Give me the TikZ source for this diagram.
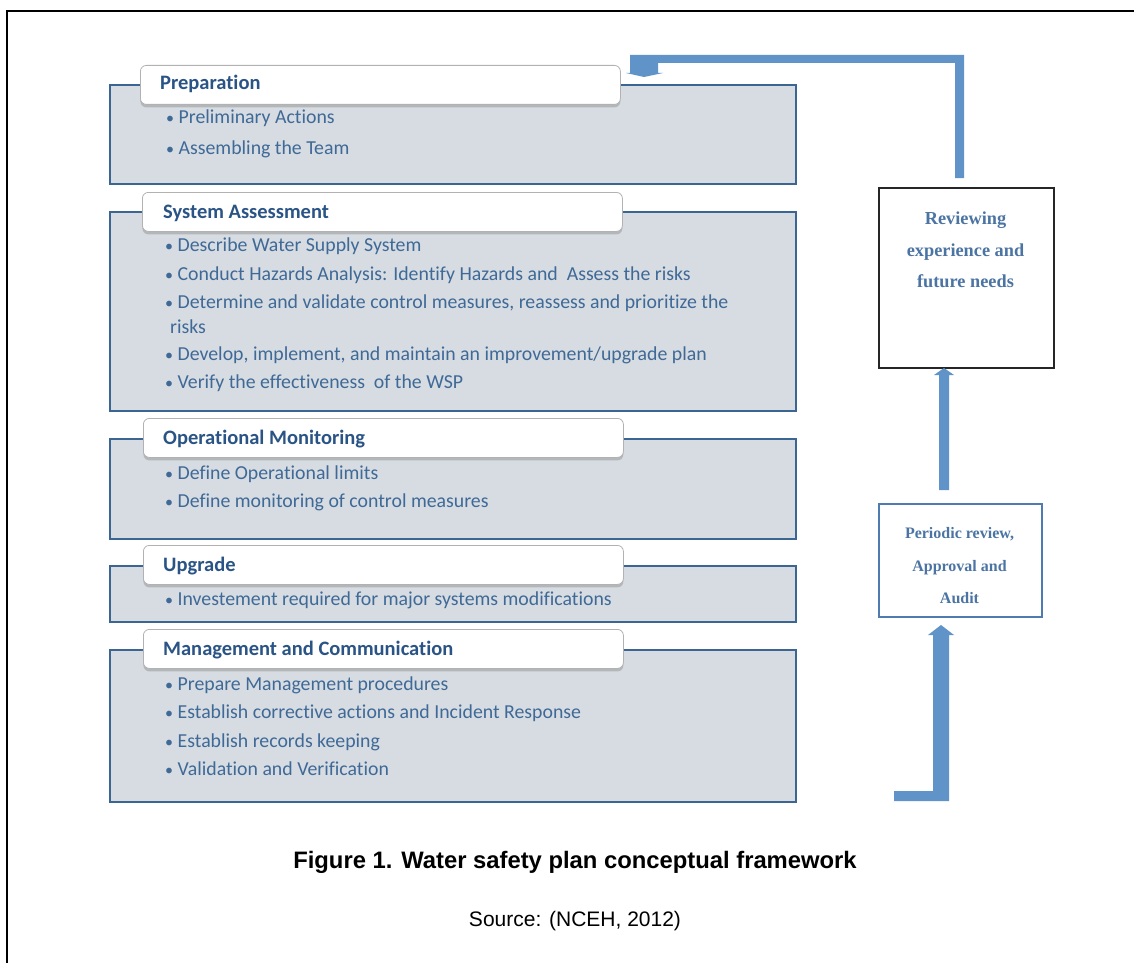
\documentclass[tikz,border=0pt]{standalone}
\usepackage{fontspec}
\setmainfont{Carlito}[Ligatures={NoCommon}]
\newfontfamily\tnr{Liberation Serif}
\newfontfamily\arial{Liberation Sans}
\usetikzlibrary{shadows}
\definecolor{bodyfill}{HTML}{D6DCE1}
\definecolor{bodyline}{HTML}{3B6593}
\definecolor{headtext}{HTML}{2A5485}
\definecolor{itemtext}{HTML}{3F6997}
\definecolor{arrowc}{HTML}{6093C8}
\definecolor{rtext}{HTML}{4B74A3}
\definecolor{pline}{HTML}{4F7CB0}
\newcommand\bl{{\fontsize{16}{16}\selectfont •}\hspace{4.5pt}}
\tikzset{
  body/.style={draw=bodyline, fill=bodyfill, line width=1.8pt, anchor=north west, inner sep=0pt},
  head/.style={draw=black!30, fill=white, line width=0.8pt, rounded corners=6pt, anchor=north west,
     minimum width=480pt, minimum height=39pt, inner sep=0pt,
     drop shadow={shadow xshift=0pt, shadow yshift=-3pt, fill=black!45, opacity=0.45}},
  headlbl/.style={anchor=base west, inner sep=0pt, text=headtext, font=\fontsize{20.5}{24}\selectfont\bfseries},
  item/.style={anchor=base west, inner sep=0pt, text=itemtext, font=\fontsize{19.8}{24}\selectfont},
  rlbl/.style={inner sep=0pt, text=rtext, align=center},
  barrow/.style={fill=arrowc},
}
\begin{document}
\begin{tikzpicture}[x=1pt, y=-1pt]
\useasboundingbox (0,0) rectangle (1134,963);
% outer frame (top and left edges)
\draw[line width=2.5pt] (1134,11) -- (7,11) -- (7,963);

% body boxes
\node[body, minimum width=686pt, minimum height=99pt]  (prepB) at (109,84) {};
\node[body, minimum width=686pt, minimum height=199pt] (saB)   at (109,211) {};
\node[body, minimum width=686pt, minimum height=100pt] (opB)   at (109,438) {};
\node[body, minimum width=686pt, minimum height=56pt]  (upB)   at (109,565) {};
\node[body, minimum width=686pt, minimum height=152pt] (mgB)   at (109,649) {};

% header tabs
\node[head] (prepH) at (140,65) {};
\node[head] (saH)   at (142,192) {};
\node[head] (opH)   at (143,418) {};
\node[head] (upH)   at (143,545) {};
\node[head] (mgH)   at (143,629) {};

\node[headlbl] (prepT) at (160,90)  {Preparation};
\node[headlbl] (saT)   at (163,218) {System Assessment};
\node[headlbl] (opT)   at (163,444) {Operational Monitoring};
\node[headlbl] (upT)   at (163,571) {Upgrade};
\node[headlbl] (mgT)   at (163,655) {Management and Communication};

% items
\node[item] (p1) at (166,124) {\bl Preliminary Actions};
\node[item] (p2) at (166,154) {\bl Assembling the Team};

\node[item] (s1) at (165,251) {\bl Describe Water Supply System};
\node[item] (s2) at (165,280) {\bl Conduct Hazards Analysis: Identify Hazards and\ \ Assess the risks};
\node[item] (s3) at (165,308) {\bl Determine and validate control measures, reassess and prioritize the};
\node[item] (s3b) at (170,333) {risks};
\node[item] (s4) at (165,360) {\bl Develop, implement, and maintain an improvement/upgrade plan};
\node[item] (s5) at (165,388) {\bl Verify the effectiveness\ \ of the WSP};

\node[item] (o1) at (165,479) {\bl Define Operational limits};
\node[item] (o2) at (165,507) {\bl Define monitoring of control measures};

\node[item] (u1) at (165,605) {\bl Investement required for major systems modifications};

\node[item] (m1) at (165,690) {\bl Prepare Management procedures};
\node[item] (m2) at (165,718) {\bl Establish corrective actions and Incident Response};
\node[item] (m3) at (165,747) {\bl Establish records keeping};
\node[item] (m4) at (165,775) {\bl Validation and Verification};

% right-hand boxes
\node[draw=black!85, line width=1.5pt, anchor=north west, minimum width=175pt, minimum height=180pt, inner sep=0pt] (review) at (878,187) {};
\node[rlbl, font=\tnr\bfseries\fontsize{18.3}{31.5}\selectfont] (reviewT) at (965.5,250) {Reviewing\\experience and\\future needs};

\node[draw=pline, line width=1.5pt, anchor=north west, minimum width=163pt, minimum height=113pt, inner sep=0pt] (periodic) at (878,503) {};
\node[rlbl, font=\tnr\bfseries\fontsize{16}{32.5}\selectfont] (periodicT) at (959.5,566) {Periodic review,\\Approval and\\Audit};

% block arrows
\fill[barrow] (894,791) -- (933,791) -- (933,635) -- (928,635) -- (941,625) -- (954,635) -- (949,635) -- (949,801) -- (894,801) -- cycle;
\fill[barrow] (939,490) -- (939,375) -- (934,375) -- (944,368) -- (954,375) -- (949,375) -- (949,490) -- cycle;
\fill[barrow] (955,178) -- (955,63) -- (658,63) -- (658,73) -- (663,73) -- (644,77) -- (626,73) -- (630,73) -- (630,55) -- (964,55) -- (964,178) -- cycle;

% caption
\node[anchor=base, inner sep=0pt, font=\arial\bfseries\fontsize{23.8}{28}\selectfont] (cap) at (575,868) {Figure 1. Water safety plan conceptual framework};
\node[anchor=base, inner sep=0pt, font=\arial\fontsize{21}{25}\selectfont] (src) at (575,926) {Source: (NCEH, 2012)};
\end{tikzpicture}
\end{document}
